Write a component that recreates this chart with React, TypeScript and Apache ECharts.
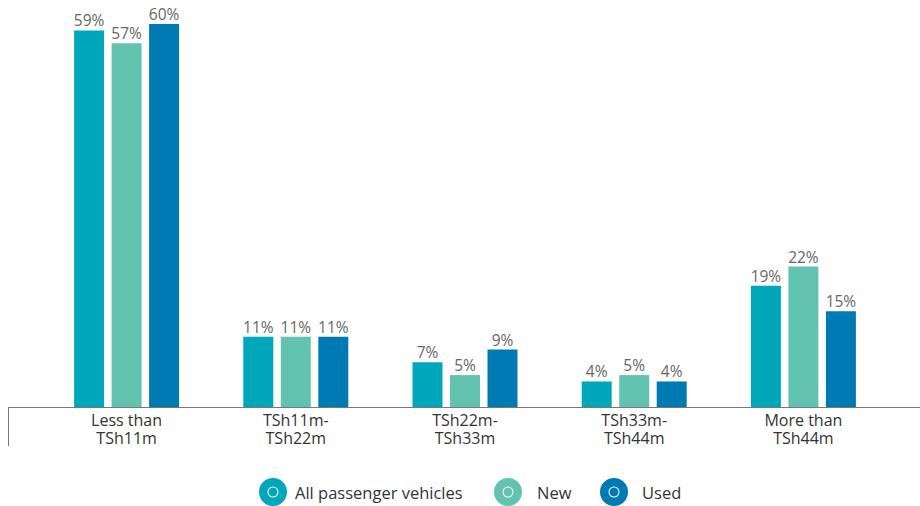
import React, { useEffect, useRef } from "react";
import * as echarts from "echarts";

const categories = ["Less than\nTSh11m", "TSh11m-\nTSh22m", "TSh22m-\nTSh33m", "TSh33m-\nTSh44m", "More than\nTSh44m"];
const seriesNames = ["All passenger vehicles", "New", "Used"];
const allValues = [59, 11, 7, 4, 19];
const newValues = [57, 11, 5, 5, 22];
const usedValues = [60, 11, 9, 4, 15];
const colors = ["#00A7BA", "#62C4B0", "#007AB2"];

const ICON =
  "path://M0,-14 A14,14 0 1,1 0,14 A14,14 0 1,1 0,-14 Z M0,-5.5 A5.5,5.5 0 1,0 0,5.5 A5.5,5.5 0 1,0 0,-5.5 Z M0,-4.5 A4.5,4.5 0 1,1 0,4.5 A4.5,4.5 0 1,1 0,-4.5 Z";

const legendLefts = [259, 494, 600];
const legendTextPad = [3, 10, 9];

export default function App() {
  const ref = useRef<HTMLDivElement>(null);
  useEffect(() => {
    document.body.style.margin = "0";
    const chart = echarts.init(ref.current!, null, { renderer: "svg" });
    const data = [allValues, newValues, usedValues];
    chart.setOption({
      animation: false,
      textStyle: { fontFamily: "Open Sans" },
      grid: { left: 42, right: 32, top: 24, bottom: 99 },
      legend: seriesNames.map((name, i) => ({
        left: legendLefts[i],
        top: 478,
        padding: 0,
        itemWidth: 28,
        itemHeight: 28,
        icon: ICON,
        textStyle: {
          fontSize: 16.5,
          color: "#333",
          fontFamily: "Open Sans",
          padding: [0, 0, 0, legendTextPad[i]],
        },
        data: [name],
      })),
      xAxis: {
        type: "category",
        data: categories,
        axisLine: { show: false },
        axisTick: { show: false },
        axisLabel: { fontSize: 16, color: "#333", lineHeight: 18, margin: 4, interval: 0 },
      },
      yAxis: { type: "value", min: 0, max: 60, show: false },
      graphic: [
        { type: "line", shape: { x1: 8, y1: 407.5, x2: 920, y2: 407.5 }, style: { stroke: "#777", lineWidth: 1 } },
        { type: "line", shape: { x1: 8.5, y1: 407, x2: 8.5, y2: 446 }, style: { stroke: "#777", lineWidth: 1 } },
      ],
      series: seriesNames.map((name, i) => ({
        name,
        type: "bar",
        data: data[i],
        barWidth: 30,
        barGap: "25%",
        itemStyle: { color: colors[i] },
        label: {
          show: true,
          position: "top",
          distance: 2,
          formatter: "{c}%",
          fontSize: 15.5,
          color: "#666",
          fontFamily: "Open Sans",
        },
      })),
    });
    return () => chart.dispose();
  }, []);
  return <div ref={ref} style={{ width: 920, height: 506 }} />;
}
